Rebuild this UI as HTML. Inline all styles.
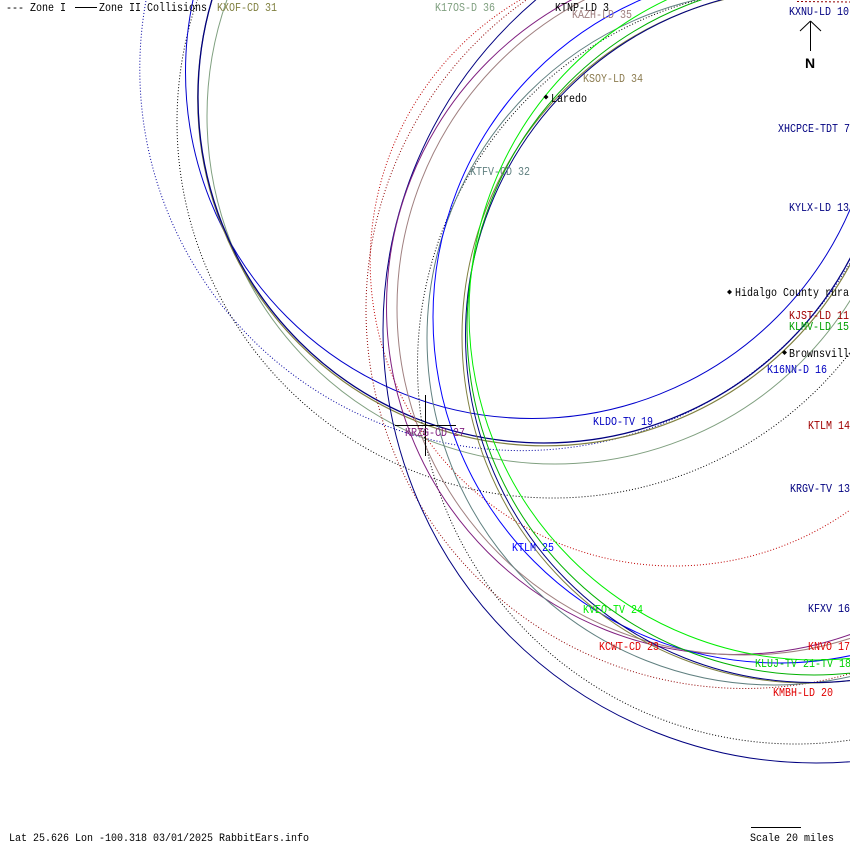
<!DOCTYPE html>
<html><head><meta charset="utf-8">
<style>
html,body{margin:0;padding:0;background:#fff;}
svg{display:block;}
text{font-family:"Liberation Mono","DejaVu Sans Mono",monospace;font-size:12px;}
</style></head><body>
<svg width="850" height="850" viewBox="0 0 850 850" xmlns="http://www.w3.org/2000/svg">
<rect width="850" height="850" fill="#fff"/>
<g fill="none" stroke-width="1">
 <!-- Laredo-centred group -->
 <circle cx="521.4" cy="69" r="381.6" stroke="#0000a0" stroke-dasharray="1 2"/>
 <circle cx="553" cy="122" r="376" stroke="#000" stroke-dasharray="1 2"/>
 <circle cx="532" cy="72" r="346.5" stroke="#0000cc"/>
 <circle cx="555" cy="116" r="348" stroke="#80a080"/>
 <circle cx="545" cy="98.5" r="347.3" stroke="#808040" stroke-width="1.2"/>
 <circle cx="544" cy="97" r="346" stroke="#000080" stroke-width="1.3"/>
 <!-- Valley-centred group -->
 <path d="M520,0 A304,304 0 1 0 850,510" stroke="#c00000" stroke-dasharray="1 2"/>
 <circle cx="745" cy="309.5" r="379" stroke="#900000" stroke-dasharray="1 2"/>
 <circle cx="816" cy="330" r="433" stroke="#000080"/>
 <circle cx="796" cy="365.5" r="378.5" stroke="#000" stroke-dasharray="1 2"/>
 <circle cx="734" cy="307" r="347.5" stroke="#802080"/>
 <circle cx="744" cy="308" r="347" stroke="#a08080"/>
 <circle cx="774" cy="338" r="347" stroke="#608080"/>
 <circle cx="779" cy="317" r="346" stroke="#0000ff"/>
 <circle cx="809" cy="336" r="347" stroke="#808040"/>
 <circle cx="813" cy="335" r="347.5" stroke="#000080"/>
 <circle cx="814" cy="328" r="347" stroke="#00b000"/>
 <circle cx="816" cy="313" r="347" stroke="#00ee00"/>
 <line x1="797" y1="1.5" x2="850" y2="2" stroke="#900000" stroke-dasharray="2 2"/>
</g>

<!-- crosshair -->
<g stroke="#000" stroke-width="1">
 <line x1="425.5" y1="395" x2="425.5" y2="456"/>
 <line x1="395" y1="425.5" x2="456" y2="425.5"/>
 <!-- legend line -->
 <line x1="75" y1="7.5" x2="97" y2="7.5"/>
 <!-- north arrow -->
 <line x1="810.5" y1="21" x2="810.5" y2="51"/>
 <line x1="810.5" y1="21" x2="800" y2="31"/>
 <line x1="810.5" y1="21" x2="821" y2="31"/>
 <!-- scale bar -->
 <line x1="751" y1="827.5" x2="801" y2="827.5"/>
</g>
<text x="805" y="68" style="font-family:'Liberation Sans',sans-serif;font-weight:bold;font-size:14px" fill="#000">N</text>

<!-- city markers -->
<g fill="#000">
 <polygon points="546,94.5 548.5,97 546,99.5 543.5,97"/>
 <polygon points="729.5,289.5 732,292 729.5,294.5 727,292"/>
 <polygon points="784.5,350 787,352.5 784.5,355 782,352.5"/>
</g>

<g>
 <text x="6" y="11" fill="#000" textLength="60" lengthAdjust="spacingAndGlyphs">--- Zone I</text>
 <text x="99" y="11" fill="#000" textLength="108" lengthAdjust="spacingAndGlyphs">Zone II Collisions</text>
 <text x="217" y="11" fill="#808040" textLength="60" lengthAdjust="spacingAndGlyphs">KXOF-CD 31</text>
 <text x="435" y="11" fill="#80a080" textLength="60" lengthAdjust="spacingAndGlyphs">K17OS-D 36</text>
 <text x="555" y="11" fill="#000" textLength="54" lengthAdjust="spacingAndGlyphs">KTNP-LD 3</text>
 <text x="572" y="18" fill="#a08080" textLength="60" lengthAdjust="spacingAndGlyphs">KAZH-LD 35</text>
 <text x="789" y="15" fill="#000080" textLength="60" lengthAdjust="spacingAndGlyphs">KXNU-LD 10</text>
 <text x="583" y="82" fill="#8c7c50" textLength="60" lengthAdjust="spacingAndGlyphs">KSOY-LD 34</text>
 <text x="551" y="102" fill="#000" textLength="36" lengthAdjust="spacingAndGlyphs">Laredo</text>
 <text x="778" y="132" fill="#000080" textLength="72" lengthAdjust="spacingAndGlyphs">XHCPCE-TDT 7</text>
 <text x="470" y="175" fill="#608080" textLength="60" lengthAdjust="spacingAndGlyphs">KTFV-CD 32</text>
 <text x="789" y="211" fill="#000080" textLength="60" lengthAdjust="spacingAndGlyphs">KYLX-LD 13</text>
 <text x="735" y="296" fill="#000" textLength="120" lengthAdjust="spacingAndGlyphs">Hidalgo County rural</text>
 <text x="789" y="319" fill="#a00000" textLength="60" lengthAdjust="spacingAndGlyphs">KJST-LD 11</text>
 <text x="789" y="330" fill="#00a000" textLength="60" lengthAdjust="spacingAndGlyphs">KLMV-LD 15</text>
 <text x="789" y="357" fill="#000" textLength="66" lengthAdjust="spacingAndGlyphs">Brownsville</text>
 <text x="767" y="373" fill="#0000c0" textLength="60" lengthAdjust="spacingAndGlyphs">K16NN-D 16</text>
 <text x="593" y="425" fill="#0000c0" textLength="60" lengthAdjust="spacingAndGlyphs">KLDO-TV 19</text>
 <text x="808" y="429" fill="#a00000" textLength="42" lengthAdjust="spacingAndGlyphs">KTLM 14</text>
 <text x="405" y="436" fill="#802080" textLength="60" lengthAdjust="spacingAndGlyphs">KRZG-CD 27</text>
 <text x="790" y="492" fill="#000080" textLength="60" lengthAdjust="spacingAndGlyphs">KRGV-TV 13</text>
 <text x="512" y="551" fill="#0000ff" textLength="42" lengthAdjust="spacingAndGlyphs">KTLM 25</text>
 <text x="583" y="613" fill="#00ee00" textLength="60" lengthAdjust="spacingAndGlyphs">KVEO-TV 24</text>
 <text x="808" y="612" fill="#000080" textLength="42" lengthAdjust="spacingAndGlyphs">KFXV 16</text>
 <text x="599" y="650" fill="#e00000" textLength="60" lengthAdjust="spacingAndGlyphs">KCWT-CD 23</text>
 <text x="808" y="650" fill="#e00000" textLength="42" lengthAdjust="spacingAndGlyphs">KNVO 17</text>
 <text x="755" y="667" fill="#00d000" textLength="96" lengthAdjust="spacingAndGlyphs">KLUJ-TV 21-TV 18</text>
 <text x="773" y="696" fill="#e00000" textLength="60" lengthAdjust="spacingAndGlyphs">KMBH-LD 20</text>
 <text x="9" y="841" fill="#000" style="font-size:11px" textLength="300" lengthAdjust="spacingAndGlyphs">Lat 25.626 Lon -100.318 03/01/2025 RabbitEars.info</text>
 <text x="750" y="841" fill="#000" style="font-size:11px" textLength="84" lengthAdjust="spacingAndGlyphs">Scale 20 miles</text>
</g>
</svg>
</body></html>
